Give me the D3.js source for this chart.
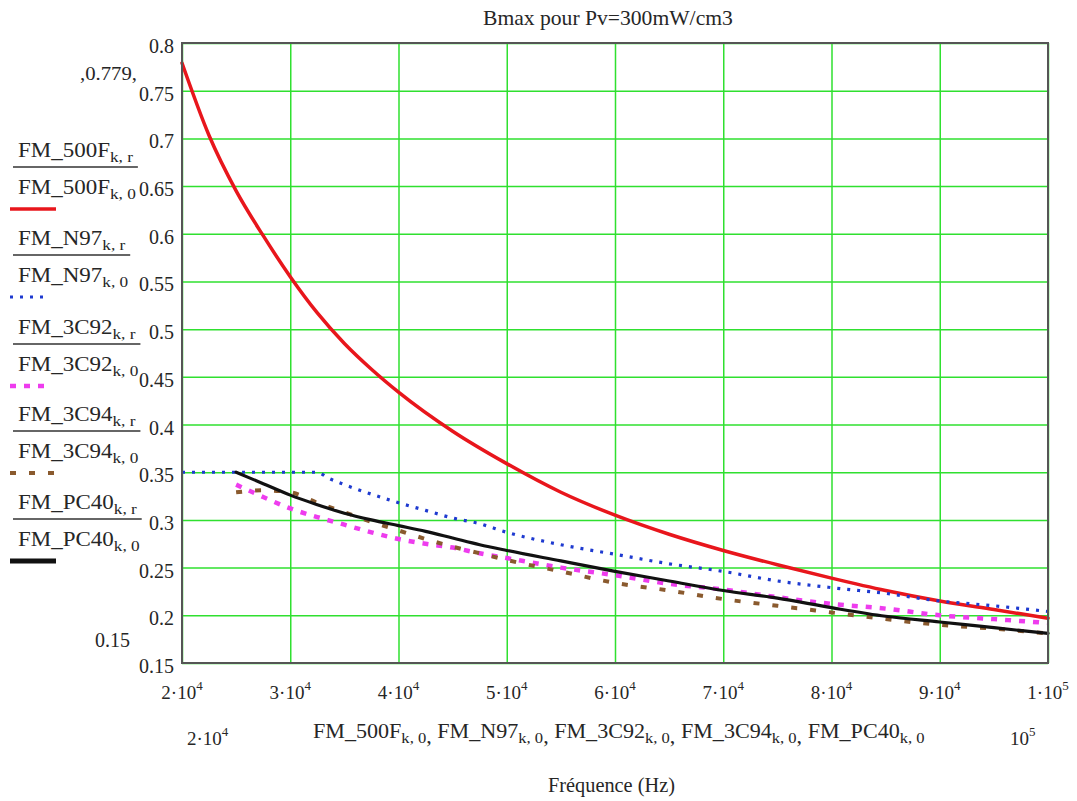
<!DOCTYPE html>
<html><head><meta charset="utf-8">
<script src="https://cdn.jsdelivr.net/npm/d3@7"></script>
<style>
body{margin:0;background:#fff}
text{font-family:"Liberation Serif","Times New Roman",serif;fill:#262626}
</style>
</head><body>
<svg id="chart" width="1077" height="801"></svg>
<script>
// ---------- data ----------
const freq500F = [20000,22500,25000,27500,30000,32500,35000,37500,40000,45000,50000,55000,60000,65000,70000,75000,80000,85000,90000,95000,100000];
const fm500F   = [0.779,0.703,0.645,0.598,0.555,0.517,0.485,0.458,0.434,0.393,0.359,0.329,0.305,0.285,0.268,0.253,0.239,0.226,0.215,0.206,0.197];

const freqN97 = [20000,25000,30000,32500,33500,35000,37500,40000,42500,45000,47500,50000,55000,60000,65000,70000,75000,80000,85000,90000,95000,100000];
const fmN97   = [0.350,0.350,0.350,0.350,0.344,0.337,0.327,0.318,0.310,0.302,0.296,0.287,0.274,0.264,0.254,0.246,0.236,0.229,0.223,0.215,0.210,0.204];

const freq3C92 = [25000,27500,30000,32500,35000,37500,40000,42500,45000,47500,50000,55000,60000,65000,70000,75000,80000,85000,90000,95000,100000];
const fm3C92   = [0.337,0.324,0.312,0.303,0.295,0.287,0.280,0.275,0.271,0.265,0.260,0.250,0.242,0.233,0.227,0.219,0.212,0.207,0.200,0.196,0.192];

const freq3C94 = [25000,27500,30000,32500,35000,37500,40000,42500,45000,47500,50000,55000,60000,65000,70000,75000,80000,85000,90000,95000,100000];
const fm3C94   = [0.329,0.331,0.329,0.318,0.308,0.298,0.289,0.280,0.272,0.265,0.258,0.246,0.234,0.226,0.217,0.210,0.203,0.196,0.190,0.186,0.181];

const freqPC40 = [25000,27500,30000,32500,35000,37500,40000,42500,45000,47500,50000,55000,60000,65000,70000,75000,80000,85000,90000,95000,100000];
const fmPC40   = [0.350,0.338,0.326,0.316,0.307,0.300,0.294,0.288,0.281,0.274,0.268,0.257,0.246,0.236,0.226,0.218,0.208,0.199,0.193,0.187,0.181];

const seriesNames = ["FM_500F","FM_N97","FM_3C92","FM_3C94","FM_PC40"];
const xTickValues = [20000,30000,40000,50000,60000,70000,80000,90000,100000];
const xTickMant   = ["2","3","4","5","6","7","8","9","1"];
const xTickExp    = ["4","4","4","4","4","4","4","4","5"];
const yTickValues = [0.15,0.2,0.25,0.3,0.35,0.4,0.45,0.5,0.55,0.6,0.65,0.7,0.75,0.8];
const yTickLabels = ["0.15","0.2","0.25","0.3","0.35","0.4","0.45","0.5","0.55","0.6","0.65","0.7","0.75","0.8"];
const titleText = "Bmax pour Pv=300mW/cm3";
const xAxisTitle = "Fréquence (Hz)";

// ---------- layout ----------
const svg = d3.select("#chart");
const L = 182, R = 1048, T = 43, B = 663;
const x = d3.scaleLinear().domain([20000,100000]).range([L,R]);
const y = d3.scaleLinear().domain([0.15,0.8]).range([B,T]);
const grid = "#2fe02f";

function fitX(sel, x0, target){
  const w = sel.node().getBBox().width;
  const s = target / w;
  sel.attr("transform", `translate(${x0},0) scale(${s},1) translate(${-x0},0)`);
  return s;
}
function scaleX(sel, x0, s){
  sel.attr("transform", `translate(${x0},0) scale(${s},1) translate(${-x0},0)`);
}

// gridlines via axes
const gx = svg.append("g").attr("transform",`translate(0,${B})`)
  .call(d3.axisBottom(x).tickValues(xTickValues).tickSize(-(B-T)).tickFormat(""));
gx.select(".domain").remove();
gx.selectAll("line").attr("stroke",grid).attr("stroke-width",1.5);

const gy = svg.append("g").attr("transform",`translate(${L},0)`)
  .call(d3.axisLeft(y).tickValues(yTickValues).tickSize(-(R-L)).tickFormat(""));
gy.select(".domain").remove();
gy.selectAll("line").attr("stroke",grid).attr("stroke-width",1.5);

// y labels
svg.append("g").selectAll("text").data(yTickValues).join("text")
  .attr("x",174).attr("y",d=>y(d)+10).attr("text-anchor","end")
  .attr("font-size",20).text((d,i)=>yTickLabels[i]);

// x labels with superscripts
const xl = svg.append("g").selectAll("text").data(xTickValues).join("text")
  .attr("x",d=>x(d)).attr("y",699).attr("text-anchor","middle").attr("font-size",19);
xl.each(function(d,i){
  const t=d3.select(this);
  t.append("tspan").text(xTickMant[i]+"·10");
  t.append("tspan").attr("font-size",13).attr("dy",-9).text(xTickExp[i]);
});

// curves
const line = d3.line().x(d=>x(d[0])).y(d=>y(d[1])).curve(d3.curveMonotoneX);
const zipper=(f,v)=>f.map((d,i)=>[d,v[i]]);
const styles = [
  {f:freq500F,v:fm500F,color:"#e8161c",w:3.5,dash:null,cap:"round"},
  {f:freqN97,v:fmN97,color:"#1e3ad0",w:3.2,dash:"3,7",cap:"butt"},
  {f:freq3C92,v:fm3C92,color:"#ee3cee",w:4.5,dash:"6,8",cap:"butt"},
  {f:freq3C94,v:fm3C94,color:"#8a5a2e",w:4,dash:"6,13",cap:"butt"},
  {f:freqPC40,v:fmPC40,color:"#111",w:3.2,dash:null,cap:"round"}
];
styles.forEach(s=>{
  svg.append("path").datum(zipper(s.f,s.v)).attr("d",line)
    .attr("fill","none").attr("stroke",s.color).attr("stroke-width",s.w)
    .attr("stroke-dasharray",s.dash).attr("stroke-linecap",s.cap);
});

// frame
svg.append("rect").attr("x",L).attr("y",T).attr("width",R-L).attr("height",B-T)
  .attr("fill","none").attr("stroke","#555").attr("stroke-width",2);

// title
const tt = svg.append("text").attr("x",483).attr("y",25).attr("font-size",20).text(titleText);
fitX(tt,483,250);

// extra Mathcad limit labels
const e1 = svg.append("text").attr("x",80).attr("y",80).attr("font-size",19).text(",0.779,");
fitX(e1,80,57);
svg.append("text").attr("x",95).attr("y",647).attr("font-size",20).text("0.15");
const lx = svg.append("text").attr("x",187).attr("y",745).attr("font-size",19);
lx.append("tspan").text("2·10"); lx.append("tspan").attr("font-size",13).attr("dy",-9).text("4");
const rx = svg.append("text").attr("x",1010).attr("y",745).attr("font-size",19);
rx.append("tspan").text("10"); rx.append("tspan").attr("font-size",13).attr("dy",-9).text("5");

// x expression line
const fmLine = svg.append("text").attr("x",313).attr("y",738).attr("font-size",20);
seriesNames.forEach((n,i)=>{
  fmLine.append("tspan").attr("dy",i===0?0:-5).text(n);
  fmLine.append("tspan").attr("font-size",15).attr("dy",5).text("k, 0");
  if(i<seriesNames.length-1) fmLine.append("tspan").text(", ");
});
fitX(fmLine,313,612);

const xt = svg.append("text").attr("x",548).attr("y",792).attr("font-size",20).text(xAxisTitle);
fitX(xt,548,127);

// legend
const legendSample = [209,297,386,473,561];
let legScale = null;
seriesNames.forEach((n,i)=>{
  const s=styles[i], base=legendSample[i];
  const g=svg.append("g");
  const t1=g.append("text").attr("x",18).attr("y",base-52).attr("font-size",20);
  t1.append("tspan").text(n); t1.append("tspan").attr("font-size",15).attr("dy",5).text("k, r");
  const t2=g.append("text").attr("x",18).attr("y",base-15).attr("font-size",20);
  t2.append("tspan").text(n); t2.append("tspan").attr("font-size",15).attr("dy",5).text("k, 0");
  const w=Math.max(t1.node().getBBox().width,t2.node().getBBox().width);
  if(legScale===null) legScale = 115 / t1.node().getBBox().width;
  scaleX(t1,18,legScale); scaleX(t2,18,legScale);
  g.append("line").attr("x1",13).attr("x2",18+w*legScale+2).attr("y1",base-42).attr("y2",base-42)
    .attr("stroke","#333").attr("stroke-width",1.5);
  g.append("line").attr("x1",10).attr("x2",i===1||i===2?46:56).attr("y1",base).attr("y2",base)
    .attr("stroke",s.color).attr("stroke-width",i===4?5:s.w).attr("stroke-dasharray",s.dash);
});
</script>
</body></html>
